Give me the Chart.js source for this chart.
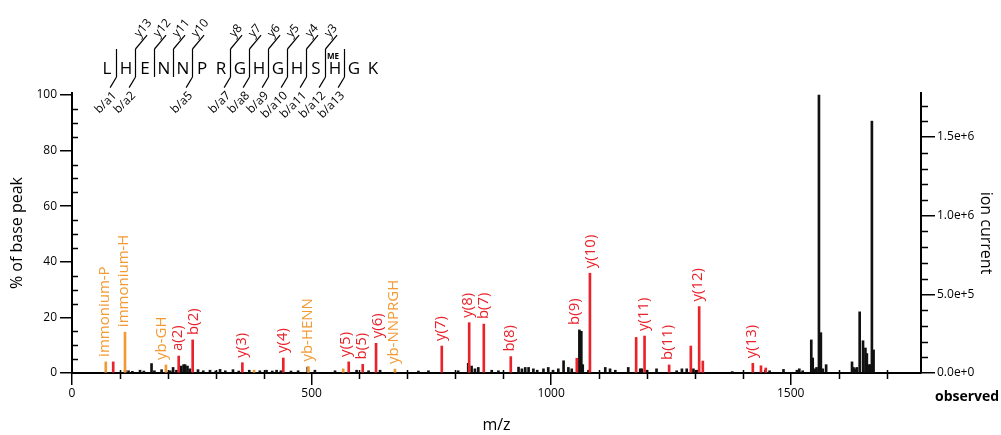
<!DOCTYPE html>
<html>
<head>
<meta charset="utf-8">
<script src="https://cdn.jsdelivr.net/npm/chart.js@4/dist/chart.umd.min.js"></script>
<style>
  html, body { margin: 0; background: #fff; }
  #wrap { width: 1001px; height: 435px; }
</style>
</head>
<body>
<div id="wrap"><canvas id="spectrum" width="1001" height="435"></canvas></div>
<script>
// Peptide header
const sequence = ["L", "H", "E", "N", "N", "P", "R", "G", "H", "G", "H", "S", "H", "G", "K"];
const bIons = [1, 2, 5, 7, 8, 9, 10, 11, 12, 13];
const yIons = [13, 12, 11, 10, 8, 7, 6, 5, 4, 3];
const modPosition = 13;
const modLabel = "ME";

// axis tick labels
const mzTicks = [0, 500, 1000, 1500];
const pctTicks = [0, 20, 40, 60, 80, 100];
const currentTicks = [0, 5e5, 1e6, 1.5e6];

// Unassigned peaks (black): m/z and % of base peak
const blackMz = [111, 118, 126, 142, 150, 166, 172, 187, 205, 211, 218, 228, 233, 236, 241, 246,
  263, 274, 288, 300, 309, 320, 336, 348, 370, 392, 406, 418, 427, 436, 457, 472, 492, 507, 549,
  594, 619, 643, 723, 744, 806, 827, 834, 841, 848, 876, 890, 932, 939, 946, 953, 963, 971, 984,
  994, 1004, 1015, 1026, 1036, 1043, 1059, 1063, 1066, 1078, 1113, 1123, 1134, 1161, 1186, 1189,
  1200, 1220, 1262, 1273, 1283, 1297, 1304, 1378, 1447, 1456, 1485, 1513, 1518, 1525, 1543, 1546,
  1550, 1554, 1559, 1563, 1567, 1574, 1628, 1631, 1634, 1638, 1644, 1651, 1656, 1659, 1663, 1666,
  1669.5, 1673];
const blackPct = [1.0, 0.8, 0.6, 1.0, 0.7, 3.4, 0.8, 1.2, 0.8, 2.0, 1.0, 2.5, 3.0, 3.0, 2.5, 1.5,
  1.2, 0.8, 1.0, 0.7, 1.3, 0.8, 1.2, 0.7, 1.0, 0.8, 1.0, 0.7, 1.0, 0.8, 0.7, 0.8, 2.1, 1.0, 0.8,
  1.0, 0.8, 1.0, 0.7, 0.8, 0.8, 3.5, 2.5, 1.5, 2.0, 1.0, 0.8, 2.1, 1.5, 2.0, 2.0, 1.5, 1.0, 1.5,
  2.0, 1.0, 1.5, 4.4, 2.0, 1.5, 15.5, 15.0, 3.0, 1.0, 2.0, 1.5, 1.0, 2.0, 1.5, 1.5,
  1.0, 1.5, 0.8, 1.5, 1.5, 1.5, 1.0, 0.5, 1.0, 0.8, 1.3, 1.0, 1.5, 0.8, 11.9, 5.4,
  1.5, 2.0, 100, 14.5, 1.5, 3.0, 4.0, 2.0, 1.5, 2.0, 22.0, 11.6, 9.0, 7.0, 3.0, 3.0,
  90.6, 8.3];

// b / y fragment peaks (red)
const fragMz = [86, 222.7, 251.9, 355.6, 441, 577.6, 606.8, 634.6, 771.8, 829, 859.5, 915.8,
  1053.6, 1081, 1177.5, 1195, 1246.3, 1291.6, 1309, 1316.6, 1421, 1438, 1448];
const fragPct = [4.0, 6.1, 11.9, 3.7, 5.4, 4.0, 3.1, 10.7, 9.7, 18.1, 17.6, 5.9,
  5.3, 35.9, 12.8, 13.3, 2.9, 9.7, 23.9, 4.3, 3.5, 2.6, 1.8];
const fragLabels = ["", "a(2)", "b(2)", "y(3)", "y(4)", "y(5)", "b(5)", "y(6)", "y(7)", "y(8)", "b(7)", "b(8)",
  "b(9)", "y(10)", "", "y(11)", "b(11)", "", "y(12)", "", "y(13)", "", ""];

// immonium / internal peaks (orange)
const otherMz = [70.5, 110.6, 196, 380, 493.4, 566, 674];
const otherPct = [4.0, 14.7, 2.9, 1.0, 2.3, 1.5, 1.4];
const otherLabels = ["immonium-P", "immonium-H", "yb-GH", "", "yb-HENN", "", "yb-NNPRGH"];

const RED = "#e8232b";
const ORANGE = "#f29a33";
const FONT = "'Open Sans', 'DejaVu Sans', sans-serif";

Chart.defaults.font.family = FONT;
Chart.defaults.color = "#000";

const toPoints = (mz, pct) => mz.map((m, i) => ({ x: m, y: pct[i] }));
const fixTicks = values => s => { s.ticks = values.map(v => ({ value: v })); };

// labels above the sticks, pushed apart when they collide
const peakLabelPlugin = {
  id: "peakLabels",
  afterDatasetsDraw(chart) {
    const { ctx, scales: { x, y } } = chart;
    const allMz = blackMz.concat(fragMz, otherMz);
    const allPct = blackPct.concat(fragPct, otherPct);
    const items = [];
    const collect = (mz, pct, labels, color) => {
      labels.forEach((txt, i) => {
        if (!txt) return;
        let top = pct[i];
        allMz.forEach((m, j) => {
          if (Math.abs(m - mz[i]) <= 8) top = Math.max(top, allPct[j]);
        });
        items.push({ lx: x.getPixelForValue(mz[i]) - 1, ly: y.getPixelForValue(top) - 5, txt, color });
      });
    };
    collect(fragMz, fragPct, fragLabels, RED);
    collect(otherMz, otherPct, otherLabels, ORANGE);
    items.sort((a, b) => a.lx - b.lx);
    for (let pass = 0; pass < 6; pass++) {
      for (let i = 1; i < items.length; i++) {
        const gap = items[i].lx - items[i - 1].lx;
        if (gap < 16) {
          const d = (16 - gap) / 2;
          items[i - 1].lx -= d;
          items[i].lx += d;
        }
      }
    }
    ctx.save();
    ctx.font = "15px " + FONT;
    ctx.textAlign = "left";
    ctx.textBaseline = "middle";
    items.forEach(it => {
      ctx.save();
      ctx.translate(it.lx, it.ly);
      ctx.rotate(-Math.PI / 2);
      ctx.fillStyle = it.color;
      ctx.fillText(it.txt, 0, 0);
      ctx.restore();
    });
    ctx.restore();
  }
};

// minor ticks, "observed" tag and the fragmentation map
const decorPlugin = {
  id: "decor",
  afterDraw(chart) {
    const { ctx, scales: { x, y, y2 } } = chart;
    ctx.save();
    ctx.strokeStyle = "#000";
    ctx.lineWidth = 1.5;
    ctx.beginPath();
    for (let v = 100; v <= 1700; v += 100) {
      if (v % 500 === 0) continue;
      const px = Math.round(x.getPixelForValue(v)) + 0.5;
      ctx.moveTo(px, x.top - 3);
      ctx.lineTo(px, x.top + 6);
    }
    for (let v = 5; v < 100; v += 5) {
      if (v % 20 === 0) continue;
      const py = Math.round(y.getPixelForValue(v)) + 0.5;
      ctx.moveTo(y.right, py);
      ctx.lineTo(y.right + 6, py);
    }
    for (let v = 1e5; v <= 1.7e6; v += 1e5) {
      if (Math.round(v / 1e5) % 5 === 0) continue;
      const py = Math.round(y2.getPixelForValue(v)) + 0.5;
      ctx.moveTo(y2.left, py);
      ctx.lineTo(y2.left + 7, py);
    }
    ctx.stroke();

    ctx.fillStyle = "#000";
    ctx.font = "bold 14px " + FONT;
    ctx.textAlign = "left";
    ctx.textBaseline = "middle";
    ctx.fillText("observed", 935, 397);

    // sequence
    const x0 = 107, step = 19, midY = 69, barTop = 49, barBot = 77;
    ctx.font = "17px " + FONT;
    ctx.textAlign = "center";
    sequence.forEach((aa, i) => ctx.fillText(aa, x0 + i * step, midY));
    ctx.font = "bold 8px " + FONT;
    ctx.fillText(modLabel, x0 + (modPosition - 1) * step - 2, 57);

    const n = sequence.length;
    const cuts = new Set(bIons.concat(yIons.map(k => n - k)));
    ctx.lineWidth = 1.2;
    ctx.font = "12px " + FONT;
    cuts.forEach(k => {
      const xb = x0 + (k - 1) * step + step / 2;
      ctx.beginPath();
      ctx.moveTo(xb, barTop);
      ctx.lineTo(xb, barBot);
      ctx.stroke();
      if (yIons.includes(n - k)) {
        ctx.save();
        ctx.translate(xb, barTop);
        ctx.rotate(-50 * Math.PI / 180);
        ctx.beginPath();
        ctx.moveTo(0, 0);
        ctx.lineTo(18, 0);
        ctx.stroke();
        ctx.textAlign = "left";
        ctx.textBaseline = "alphabetic";
        ctx.fillText("y" + (n - k), 11, -4);
        ctx.restore();
      }
      if (bIons.includes(k)) {
        ctx.save();
        ctx.translate(xb, barBot);
        ctx.rotate(-45 * Math.PI / 180);
        ctx.beginPath();
        ctx.moveTo(0, 0);
        ctx.lineTo(-12, 3);
        ctx.stroke();
        ctx.textAlign = "right";
        ctx.textBaseline = "alphabetic";
        ctx.fillText("b/a" + k, -13, 14);
        ctx.restore();
      }
    });
    ctx.restore();
  }
};

new Chart(document.getElementById("spectrum"), {
  type: "bar",
  data: {
    datasets: [
      { label: "fragments", data: toPoints(fragMz, fragPct), backgroundColor: RED, order: 1 },
      { label: "other", data: toPoints(otherMz, otherPct), backgroundColor: ORANGE, order: 2 },
      { label: "observed", data: toPoints(blackMz, blackPct), backgroundColor: "#111", order: 3 },
    ],
  },
  options: {
    responsive: false,
    devicePixelRatio: 1,
    animation: false,
    layout: { padding: { top: 93, left: 0, right: 0, bottom: 0 } },
    datasets: { bar: { barThickness: 2, grouped: false } },
    plugins: { legend: { display: false }, tooltip: { enabled: false } },
    scales: {
      x: {
        type: "linear",
        min: 0,
        max: 1772,
        offset: false,
        afterFit: s => { s.height = 62; },
        afterBuildTicks: fixTicks(mzTicks),
        border: { color: "#000", width: 2 },
        grid: { display: true, drawOnChartArea: false, offset: false, tickLength: 12, color: "#000", lineWidth: 1.5 },
        ticks: { padding: 1, font: { size: 12 }, autoSkip: false, maxRotation: 0, callback: v => String(v) },
        title: { display: true, text: "m/z", font: { size: 16 }, padding: { top: 3, bottom: 0 } },
      },
      y: {
        position: "left",
        min: 0,
        max: 100.72,
        afterFit: s => { s.width = 72; },
        afterBuildTicks: fixTicks(pctTicks),
        border: { color: "#000", width: 2 },
        grid: { display: true, drawOnChartArea: false, tickLength: 12, color: "#000", lineWidth: 1.5 },
        ticks: { padding: 3, font: { size: 12 } },
        title: { display: true, text: "% of base peak", font: { size: 16 }, padding: { top: 8, bottom: 0 } },
      },
      y2: {
        position: "right",
        min: 0,
        max: 1.78e6,
        afterFit: s => { s.width = 80; },
        afterBuildTicks: fixTicks(currentTicks),
        border: { color: "#000", width: 2 },
        grid: { display: true, drawOnChartArea: false, tickLength: 14, color: "#000", lineWidth: 1.5 },
        ticks: { padding: 2, font: { size: 12 }, callback: v => Number(v).toExponential(1) },
        title: { display: true, text: "ion current", font: { size: 16 }, padding: { top: 6, bottom: 0 } },
      },
    },
  },
  plugins: [peakLabelPlugin, decorPlugin],
});
</script>
</body>
</html>
